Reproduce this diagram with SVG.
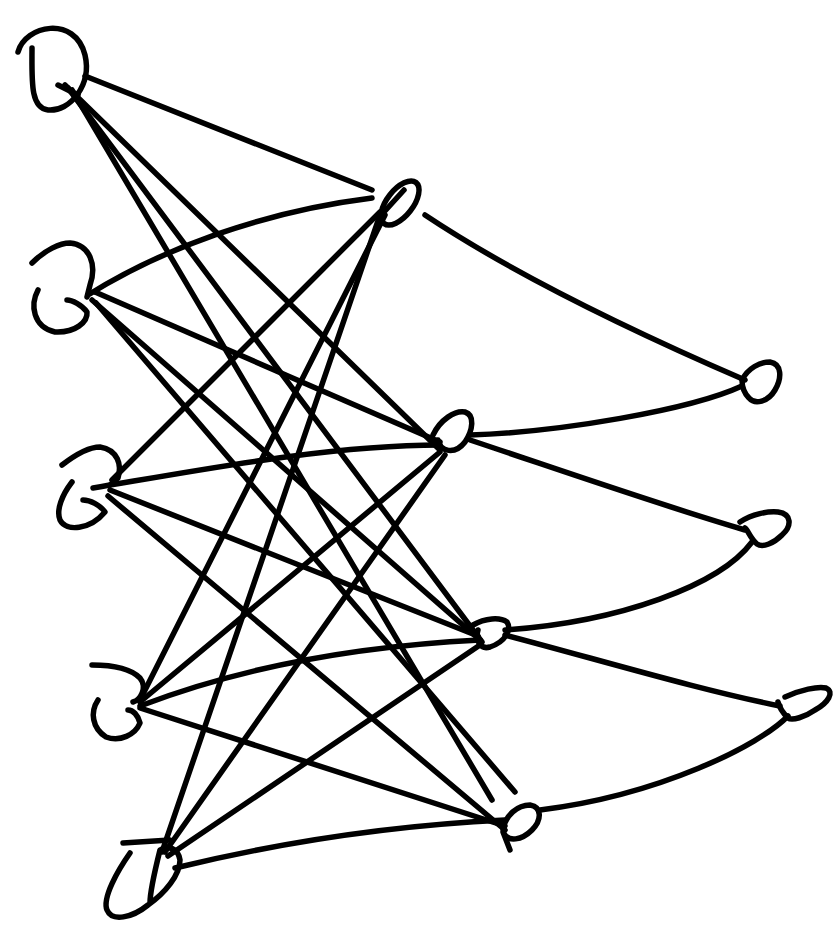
<svg xmlns="http://www.w3.org/2000/svg" width="836" height="928" viewBox="0 0 836 928">
<style>
.s{fill:none;stroke:#000;stroke-width:5.5;stroke-linecap:round;stroke-linejoin:round}
</style>
<rect width="836" height="928" fill="#fff"/>
<g id="connectors" class="s">
<path d="M85,76 L372,190"/>
<path d="M65,85 L440,450"/>
<path d="M68,88 L482,642"/>
<path d="M72,90 L492,800"/>
<path d="M88,295 C160,250 260,212 372,198"/>
<path d="M95,292 L440,442"/>
<path d="M92,300 L480,640"/>
<path d="M96,303 L515,792"/>
<path d="M112,480 L380,212"/>
<path d="M93,488 C200,470 330,445 440,445"/>
<path d="M110,490 L478,636"/>
<path d="M108,496 L505,830"/>
<path d="M140,700 L385,215"/>
<path d="M140,702 L440,452"/>
<path d="M140,706 C260,660 380,645 480,640"/>
<path d="M140,708 L505,826"/>
<path d="M162,852 L380,215"/>
<path d="M165,852 L445,455"/>
<path d="M168,856 L480,645"/>
<path d="M175,868 C290,840 400,825 505,820"/>
<path d="M425,215 C470,245 560,300 745,380"/>
<path d="M470,435 C560,432 690,410 742,386"/>
<path d="M470,440 C560,470 660,505 745,530"/>
<path d="M505,630 C620,622 720,585 752,542"/>
<path d="M505,635 C600,660 700,690 780,706"/>
<path d="M540,810 C660,795 760,745 788,716"/>
</g>
<g id="in1" class="s"><path d="M18,52 C25,25 75,15 85,55 C92,85 70,112 48,110 C30,108 32,80 32,48"/><path d="M58,85 L78,95"/></g>
<g id="in2" class="s"><path d="M32,263 C45,250 60,243 70,243 C90,245 97,265 90,285 L87,297"/><path d="M38,290 C30,305 33,327 55,332 C75,333 88,322 87,312 C82,305 72,300 67,300"/></g>
<g id="in3" class="s"><path d="M62,465 C75,455 90,447 100,447 C118,450 122,465 118,478 L110,485"/><path d="M72,482 C62,495 56,510 60,520 C66,532 90,530 105,512 C100,505 90,500 83,500"/></g>
<g id="in4" class="s"><path d="M92,665 C110,665 130,668 140,678 C148,688 140,700 133,702"/><path d="M98,700 C90,712 92,728 106,737 C120,742 135,735 140,723 C138,715 133,710 128,710"/></g>
<g id="in5" class="s"><path d="M123,843 L170,840"/><path d="M130,853 C118,870 102,898 107,910 C112,922 132,918 148,905 C165,893 180,875 180,860 C178,848 168,845 160,850 C155,870 150,890 150,903"/></g>
<g id="h1" class="s"><ellipse cx="400" cy="203" rx="26" ry="13" transform="rotate(-52 400 203)"/><path d="M384,212 L404,190"/></g>
<g id="h2" class="s"><path d="M433,435 C440,420 455,410 465,412 C475,415 473,430 465,442 C455,455 440,452 438,440"/></g>
<g id="h3" class="s"><path d="M473,625 C485,618 500,617 507,622 C512,630 505,642 490,647 C480,650 475,640 478,630"/></g>
<g id="h4" class="s"><path d="M503,830 C505,815 518,805 530,805 C542,807 542,820 532,830 C522,840 508,843 503,832 L510,850"/></g>
<g id="o1" class="s"><path d="M742,380 C748,368 760,362 770,362 C782,364 782,378 775,390 C768,402 755,405 749,398 C743,392 742,386 742,380"/></g>
<g id="o2" class="s"><path d="M740,522 C752,514 768,511 778,512 C792,514 792,526 782,535 C774,543 763,548 757,544 C750,538 748,530 745,528"/></g>
<g id="o3" class="s"><path d="M785,697 C800,690 818,686 826,688 C835,692 828,703 815,710 C805,717 792,721 788,718 C782,712 779,706 778,702"/></g>
</svg>
